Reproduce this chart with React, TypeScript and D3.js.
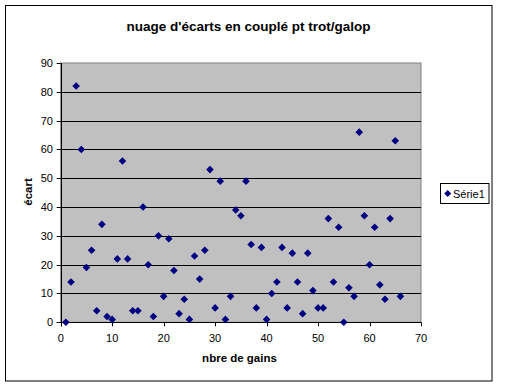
import React from "react";
import * as d3 from "d3";

const gains = [1,2,3,4,5,6,7,8,9,10,11,12,13,14,15,16,17,18,19,20,21,22,23,24,25,26,27,28,29,30,31,32,33,34,35,36,37,38,39,40,41,42,43,44,45,46,47,48,49,50,51,52,53,54,55,56,57,58,59,60,61,62,63,64,65,66];
const ecarts = [0,14,82,60,19,25,4,34,2,1,22,56,22,4,4,40,20,2,30,9,29,18,3,8,1,23,15,25,53,5,49,1,9,39,37,49,27,5,26,1,10,14,26,5,24,14,3,24,11,5,5,36,14,33,0,12,9,66,37,20,33,13,8,36,63,9];
const xTicks = [0,10,20,30,40,50,60,70];
const yTicks = [0,10,20,30,40,50,60,70,80,90];
const title = "nuage d'écarts en couplé pt trot/galop";
const xTitle = "nbre de gains";
const yTitle = "écart";
const seriesName = "Série1";

export default function App() {
  const left = 60.7, right = 421, top = 63, bottom = 322.3;
  const x = d3.scaleLinear().domain([0, 70]).range([left, right]);
  const y = d3.scaleLinear().domain([0, 90]).range([bottom, top]);
  const font = "'Liberation Sans', Arial, sans-serif";
  const diamond = (cx: number, cy: number, r = 3.8) =>
    `M${cx},${cy - r}L${cx + r},${cy}L${cx},${cy + r}L${cx - r},${cy}Z`;
  return (
    <svg width={512} height={387} style={{ position: "absolute", left: 0, top: 0 }} fontFamily={font}>
      <rect x={0} y={0} width={512} height={387} fill="#fff" />
      <rect x={5.5} y={5.5} width={486.5} height={375.5} fill="#fff" stroke="#000" strokeWidth={1} />
      <text x={248.5} y={31} textAnchor="middle" fontSize={13.5} fontWeight="bold">{title}</text>
      <rect x={left} y={top} width={right - left} height={bottom - top} fill="#C0C0C0" stroke="#808080" strokeWidth={1} />
      {yTicks.filter(t => t > 0 && t < 90).map(t => (
        <line key={t} x1={left} x2={right} y1={Math.round(y(t)) + 0.5} y2={Math.round(y(t)) + 0.5} stroke="#000" />
      ))}
      <line x1={Math.round(left) + 0.5} x2={Math.round(left) + 0.5} y1={top} y2={bottom + 4} stroke="#000" />
      <line x1={left - 4} x2={right} y1={Math.round(bottom) + 0.5} y2={Math.round(bottom) + 0.5} stroke="#000" />
      {yTicks.map(t => (
        <g key={t}>
          <line x1={left - 4} x2={left} y1={Math.round(y(t)) + 0.5} y2={Math.round(y(t)) + 0.5} stroke="#000" />
          <text x={53} y={y(t) + 4} textAnchor="end" fontSize={11}>{t}</text>
        </g>
      ))}
      {xTicks.map(t => (
        <g key={t}>
          <line x1={Math.round(x(t)) + 0.5} x2={Math.round(x(t)) + 0.5} y1={bottom} y2={bottom + 4} stroke="#000" />
          <text x={x(t)} y={342} textAnchor="middle" fontSize={11}>{t}</text>
        </g>
      ))}
      <text x={239.5} y={362} textAnchor="middle" fontSize={11.5} fontWeight="bold">{xTitle}</text>
      <text transform={`translate(32,192) rotate(-90)`} textAnchor="middle" fontSize={11.5} fontWeight="bold">{yTitle}</text>
      {gains.map((g, i) => (
        <path key={i} d={diamond(x(g), y(ecarts[i]))} fill="#000080" />
      ))}
      <rect x={440.5} y={183.5} width={48.5} height={20} fill="#fff" stroke="#000" />
      <path d={diamond(447.7, 193.5, 3.5)} fill="#000080" />
      <text x={453} y={197.5} fontSize={11}>{seriesName}</text>
    </svg>
  );
}
